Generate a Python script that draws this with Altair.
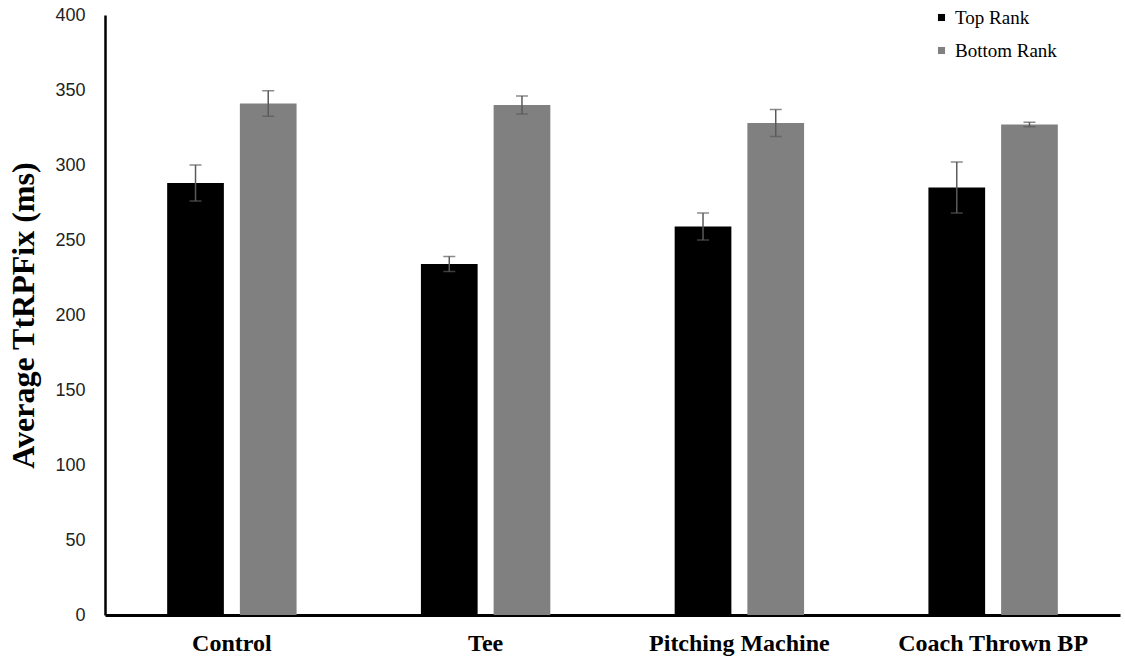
import altair as alt
import pandas as pd

categories = ["Control", "Tee", "Pitching Machine", "Coach Thrown BP"]
groups = ["Top Rank", "Bottom Rank"]
top_rank = [288, 234, 259, 285]
top_err = [12, 5, 9, 17]
bottom_rank = [341, 340, 328, 327]
bottom_err = [8.5, 6, 9, 1.5]

rows = []
for i, c in enumerate(categories):
    rows.append({"cat": c, "grp": "Top Rank", "val": top_rank[i], "err": top_err[i]})
    rows.append({"cat": c, "grp": "Bottom Rank", "val": bottom_rank[i], "err": bottom_err[i]})
df = pd.DataFrame(rows)
df["lo"] = df["val"] - df["err"]
df["hi"] = df["val"] + df["err"]

xenc = alt.X("cat:N", sort=categories, title=None,
             scale=alt.Scale(paddingInner=0.49, paddingOuter=0.245),
             axis=alt.Axis(labelAngle=0, labelFont="Liberation Serif", labelFontWeight="bold",
                           labelFontSize=24, labelColor="#000", labelPadding=16, labelLimit=400,
                           ticks=False, domainColor="#000", domainWidth=3))
xoff = alt.XOffset("grp:N", sort=groups, scale=alt.Scale(paddingInner=0.22))

bars = alt.Chart(df).mark_bar().encode(
    x=xenc,
    xOffset=xoff,
    y=alt.Y("val:Q", title="Average TtRPFix (ms)",
            scale=alt.Scale(domain=[0, 400]),
            axis=alt.Axis(values=list(range(0, 401, 50)), grid=False, ticks=False,
                          domainColor="#000", domainWidth=2.5,
                          labelFont="Liberation Sans", labelFontSize=18, labelColor="#222",
                          labelPadding=20, titleFont="Liberation Serif", titleFontSize=32,
                          titleFontWeight="bold", titleColor="#000", titlePadding=14)),
    color=alt.Color("grp:N", sort=groups,
                    scale=alt.Scale(domain=groups, range=["#000000", "#808080"]),
                    legend=alt.Legend(title=None, orient="none", legendX=827, legendY=-7,
                                      symbolType="square", symbolSize=50, symbolStrokeWidth=0,
                                      labelFont="Liberation Serif", labelFontSize=19,
                                      labelColor="#000", rowPadding=13, symbolOffset=0,
                                      labelOffset=4, labelLimit=300)),
)

rules = alt.Chart(df).mark_rule(color="#5a5a5a", strokeWidth=1.5).encode(
    x=alt.X("cat:N", sort=categories), xOffset=xoff,
    y="lo:Q", y2="hi:Q")
cap_hi = alt.Chart(df).mark_tick(color="#5a5a5a", thickness=1.5, size=12, orient="horizontal").encode(
    x=alt.X("cat:N", sort=categories), xOffset=xoff, y="hi:Q")
cap_lo = alt.Chart(df).mark_tick(color="#5a5a5a", thickness=1.5, size=12, orient="horizontal").encode(
    x=alt.X("cat:N", sort=categories), xOffset=xoff, y="lo:Q")

chart = alt.layer(bars, rules, cap_hi, cap_lo).properties(
    width=1015, height=600,
    background="white",
    autosize=alt.AutoSizeParams(type="none"),
    padding={"left": 105, "top": 15, "right": 5, "bottom": 44},
).configure_view(stroke=None)

chart.save("out.html", embed_options={"renderer": "svg", "actions": False})
